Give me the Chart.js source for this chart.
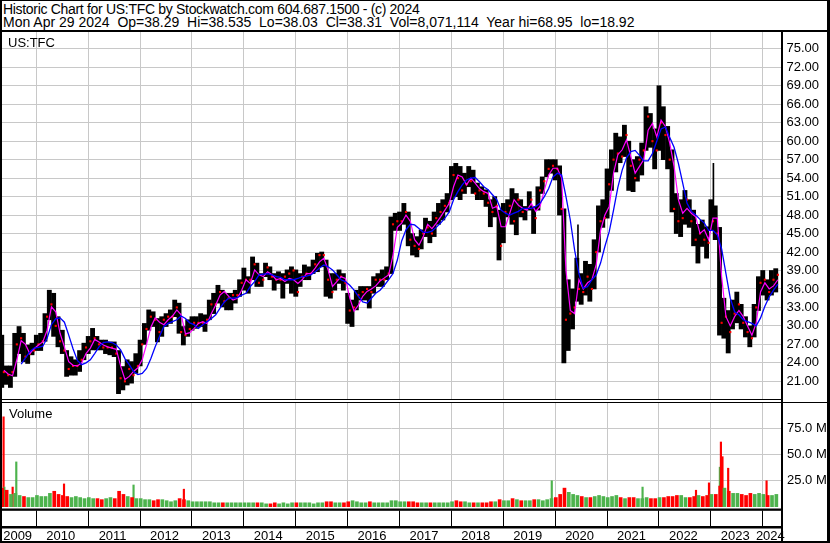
<!DOCTYPE html>
<html>
<head>
<meta charset="utf-8">
<script src="https://cdn.jsdelivr.net/npm/chart.js@4.4.1/dist/chart.umd.min.js"></script>
<style>
  html, body { margin:0; padding:0; background:#fff; }
  #wrap { position:relative; width:830px; height:543px; overflow:hidden;
          font-family:"Liberation Sans", Arial, sans-serif; color:#000; }
  .txt { position:absolute; white-space:pre; }
  .hd { font-size:14px; line-height:14px; left:3px; }
  .lb { font-size:13px; line-height:13px; }
  .ln { position:absolute; background:#000; }
  canvas { position:absolute; left:0; }
</style>
</head>
<body>
<div id="wrap">
  <canvas id="priceChart" width="830" height="367" style="top:32px"></canvas>
  <canvas id="volChart" width="830" height="140" style="top:403px"></canvas>

  <div class="txt hd" style="top:2px;letter-spacing:-0.31px">Historic Chart for US:TFC by Stockwatch.com 604.687.1500 - (c) 2024</div>
  <div class="txt hd" style="top:15px">Mon Apr 29 2024  Op=38.29  Hi=38.535  Lo=38.03  Cl=38.31  Vol=8,071,114  Year hi=68.95  lo=18.92</div>
  <div class="txt lb" style="left:8px;top:36px">US:TFC</div>
  <div class="txt lb" style="left:9px;top:407px">Volume</div>

  <!-- frame -->
  <div class="ln" style="left:0;top:0;width:830px;height:1px"></div>
  <div class="ln" style="left:0;top:30px;width:830px;height:2px"></div>
  <div class="ln" style="left:0;top:0;width:2px;height:543px"></div>
  <div class="ln" style="left:827px;top:0;width:3px;height:543px"></div>
  <div class="ln" style="left:781px;top:31px;width:2px;height:512px"></div>
  <div class="ln" style="left:0;top:399px;width:781px;height:1px"></div>
  <div class="ln" style="left:0;top:401.5px;width:830px;height:1.5px"></div>
  <div class="ln" style="left:0;top:541px;width:830px;height:2px"></div>
</div>

<script>
// Monthly bars, May 2009 .. Apr 2024 (one row per year)
const START_YEAR = 2009, START_MONTH = 4;

const priceHigh = [
  28.5, 23.5, 23.5, 28.8, 29.9, 28.8, 26.9, 27.2,
  28.5, 28.8, 32.0, 35.8, 35.3, 31.5, 29.3, 26.0, 25.0, 24.5, 26.0, 27.2,
  28.3, 29.6, 28.3, 27.7, 27.7, 27.4, 27.4, 26.0, 23.4, 24.5, 24.2, 25.5,
  27.7, 30.4, 32.6, 32.3, 31.2, 31.5, 32.0, 32.6, 34.2, 33.7, 29.9, 31.0,
  31.5, 31.5, 32.0, 31.8, 34.2, 35.3, 36.6, 35.8, 35.3, 35.3, 35.8, 37.5,
  39.4, 38.0, 41.2, 40.2, 38.5, 40.2, 39.6, 38.5, 38.8, 38.5, 39.1, 39.6,
  39.1, 38.5, 39.9, 39.6, 40.7, 41.8, 42.0, 40.7, 38.5, 38.5, 39.1, 38.5,
  35.3, 34.2, 35.8, 36.4, 36.4, 36.4, 38.0, 38.5, 39.1, 39.6, 47.7, 48.3,
  48.5, 49.9, 48.5, 45.0, 44.5, 45.6, 47.5, 47.0, 48.5, 49.9, 50.5, 51.5,
  55.9, 56.4, 55.9, 54.8, 55.9, 55.3, 53.2, 52.6, 52.1, 50.5, 51.0, 48.8,
  49.9, 50.5, 52.3, 51.5, 50.5, 49.4, 51.8, 49.4, 52.6, 54.2, 57.0, 57.0,
  57.0, 56.0, 49.0, 37.5, 36.0, 41.0, 38.5, 40.5, 40.0, 44.0, 49.5, 50.5,
  55.5, 58.6, 61.3, 60.7, 62.6, 60.0, 57.0, 57.5, 59.7, 65.6, 64.5, 62.0,
  69.0, 65.6, 62.4, 58.6, 51.5, 50.5, 52.0, 50.5, 48.8, 46.5, 47.2, 46.1,
  50.5, 49.5, 46.0, 34.5, 32.5, 34.2, 35.5, 33.5, 31.5, 30.0, 33.5, 38.0,
  39.0, 37.5, 39.0, 39.3
];
const priceLow = [
  20.0, 20.5, 20.0, 21.8, 25.5, 24.2, 23.9, 25.3,
  26.0, 26.0, 27.5, 31.0, 28.3, 26.6, 25.5, 21.8, 22.0, 22.0, 22.6, 24.5,
  25.5, 26.1, 26.1, 26.1, 25.5, 25.3, 25.0, 19.0, 19.6, 20.4, 20.7, 22.3,
  23.5, 27.0, 29.3, 29.9, 27.4, 28.3, 29.9, 30.4, 31.5, 28.8, 26.9, 28.3,
  29.3, 29.6, 29.9, 29.1, 31.0, 32.0, 33.7, 33.1, 32.6, 32.6, 33.7, 34.8,
  35.8, 35.3, 37.5, 36.4, 36.4, 38.0, 37.5, 35.8, 36.9, 34.5, 36.9, 35.3,
  34.8, 36.4, 37.5, 37.5, 38.5, 38.8, 39.6, 34.8, 34.5, 35.8, 36.9, 35.8,
  30.4, 29.9, 32.6, 34.2, 34.2, 32.9, 35.3, 36.4, 36.4, 37.5, 38.5, 45.5,
  45.5, 46.5, 43.0, 41.5, 41.2, 42.5, 44.5, 43.5, 44.5, 46.5, 47.2, 48.5,
  50.5, 51.0, 50.5, 51.5, 52.6, 51.5, 50.5, 50.5, 49.4, 46.1, 47.7, 40.7,
  43.5, 47.7, 46.5, 44.8, 47.7, 47.2, 48.8, 45.0, 48.8, 51.5, 54.2, 54.8,
  53.7, 48.0, 24.0, 26.0, 29.5, 34.0, 33.5, 35.0, 34.0, 36.0, 42.0, 46.0,
  47.5, 52.0, 55.0, 56.5, 57.5, 52.0, 51.8, 53.5, 54.5, 58.5, 59.0, 55.5,
  58.5, 57.0, 55.5, 48.5, 45.0, 44.5, 46.5, 46.0, 43.0, 40.2, 42.9, 41.0,
  45.5, 44.0, 28.5, 28.0, 25.6, 29.5, 30.5, 29.5, 28.2, 26.6, 28.2, 32.5,
  35.0, 34.2, 35.0, 35.5
];
const priceClose = [
  22.5, 22.0, 22.5, 27.0, 28.0, 25.0, 25.5, 26.0,
  27.0, 27.5, 31.5, 33.5, 30.0, 27.5, 26.0, 23.0, 23.5, 23.5, 24.5, 26.5,
  27.5, 28.0, 27.0, 26.5, 26.5, 26.5, 25.5, 21.5, 21.0, 23.0, 22.0, 23.5,
  27.0, 29.5, 31.5, 31.0, 29.0, 31.0, 31.5, 31.5, 33.0, 29.0, 28.5, 29.5,
  30.5, 30.5, 30.5, 31.0, 33.5, 33.5, 35.5, 34.0, 34.5, 35.0, 35.0, 37.0,
  37.5, 37.5, 40.0, 37.0, 37.5, 39.5, 38.0, 37.5, 37.5, 38.0, 38.5, 39.0,
  35.5, 38.0, 38.5, 38.5, 40.0, 41.5, 41.5, 37.5, 35.5, 37.5, 38.0, 37.0,
  32.5, 33.0, 35.0, 35.5, 36.0, 35.5, 37.5, 37.5, 37.5, 38.5, 46.5, 47.0,
  47.0, 48.5, 44.0, 43.0, 42.5, 45.0, 46.0, 45.0, 47.5, 48.5, 49.5, 50.0,
  54.5, 54.0, 52.0, 53.0, 53.5, 51.5, 52.0, 51.5, 50.0, 48.5, 49.5, 43.0,
  48.5, 49.5, 47.0, 50.5, 48.5, 49.0, 50.5, 47.5, 52.0, 53.5, 55.5, 56.0,
  55.5, 49.0, 31.0, 32.0, 33.0, 36.0, 35.5, 38.0, 36.0, 42.0, 47.0, 47.5,
  53.0, 57.0, 58.0, 57.5, 61.0, 56.0, 54.0, 57.0, 58.5, 64.0, 60.0, 58.5,
  63.0, 61.0, 57.0, 49.0, 47.0, 47.5, 50.5, 47.0, 44.0, 45.0, 44.0, 43.5,
  47.0, 45.0, 30.5, 31.5, 29.0, 32.0, 33.5, 30.5, 29.0, 28.0, 33.0, 37.0,
  37.5, 35.5, 37.5, 38.3
];
// magenta (short) and blue (long) moving averages
const maFast = [
  22.8, 22.2, 21.9, 24.5, 27.6, 27.0, 25.5, 26.3,
  26.9, 27.4, 29.3, 33.1, 32.3, 28.8, 26.6, 24.2, 23.6, 23.5, 24.0, 25.5,
  26.4, 27.8, 27.4, 26.9, 26.6, 26.4, 26.2, 23.5, 21.3, 21.8, 22.6, 23.2,
  24.5, 27.0, 29.8, 31.3, 30.6, 30.2, 31.0, 31.6, 32.6, 31.8, 28.7, 28.9,
  29.6, 30.4, 30.7, 30.4, 32.0, 33.4, 35.0, 35.6, 34.8, 34.2, 34.5, 35.8,
  37.5, 36.9, 39.1, 38.3, 38.0, 38.8, 38.3, 37.5, 37.7, 37.2, 37.7, 37.5,
  36.9, 37.5, 38.5, 38.5, 39.4, 40.4, 41.0, 39.1, 36.4, 37.2, 38.0, 37.7,
  34.5, 32.4, 33.4, 34.8, 35.6, 36.0, 36.5, 37.3, 37.8, 38.3, 41.5, 46.0,
  46.7, 48.0, 47.0, 44.0, 43.1, 44.5, 46.5, 45.8, 46.7, 47.7, 48.8, 49.9,
  52.6, 54.5, 54.2, 52.9, 54.0, 53.2, 52.3, 51.8, 51.5, 49.1, 49.4, 46.1,
  46.1, 48.3, 50.5, 49.6, 49.1, 48.8, 49.9, 48.6, 49.4, 52.1, 54.5, 55.6,
  55.6, 54.0, 39.0, 32.5, 32.0, 37.5, 36.0, 37.0, 37.5, 40.0, 45.5, 48.0,
  49.4, 54.8, 57.8, 58.6, 60.2, 57.5, 54.8, 55.9, 57.0, 61.8, 62.9, 60.7,
  63.4, 62.4, 59.7, 55.9, 50.5, 48.3, 49.1, 48.3, 47.7, 45.0, 45.6, 44.0,
  47.5, 47.5, 38.0, 31.5, 30.0, 31.5, 32.5, 31.5, 30.0, 28.5, 30.5, 35.5,
  37.0, 36.0, 36.5, 37.5
];
const maSlow = [
  null, null, null, null, 23.8, 24.8, 25.8, 26.4,
  26.5, 26.7, 28.0, 30.2, 31.2, 31.3, 30.6, 28.5, 26.3, 24.4, 23.7, 24.0,
  24.5, 25.5, 26.6, 27.3, 27.4, 27.3, 26.9, 26.1, 24.7, 23.7, 22.6, 22.1,
  22.3, 23.1, 24.7, 26.6, 28.3, 29.9, 30.4, 30.7, 31.0, 31.6, 31.2, 30.5,
  30.2, 29.6, 30.2, 30.7, 31.2, 31.8, 32.9, 33.9, 34.5, 34.5, 34.6, 35.0,
  35.3, 36.4, 37.2, 38.3, 38.4, 38.5, 38.3, 38.0, 37.9, 37.5, 37.5, 37.5,
  37.7, 38.0, 38.1, 38.3, 38.8, 39.4, 39.9, 39.6, 39.1, 38.3, 37.5, 37.2,
  36.6, 35.8, 34.8, 33.9, 33.7, 34.5, 35.3, 35.8, 36.6, 37.5, 38.5, 40.7,
  43.8, 45.6, 46.5, 46.4, 45.8, 45.2, 45.2, 45.4, 46.0, 46.7, 47.5, 48.5,
  50.5, 51.8, 52.9, 53.7, 54.0, 54.1, 53.4, 52.6, 52.1, 51.3, 50.5, 48.8,
  48.3, 48.0, 48.3, 48.6, 49.1, 49.1, 49.1, 49.4, 49.9, 51.0, 52.3, 54.2,
  54.8, 54.5, 51.0, 47.2, 42.3, 38.5, 36.1, 36.4, 37.5, 38.3, 40.2, 42.9,
  45.3, 48.8, 52.5, 55.3, 57.3, 58.3, 58.5, 57.7, 56.8, 56.8, 58.0, 60.0,
  62.0, 62.3, 60.6, 59.0, 56.4, 53.2, 49.9, 48.6, 48.0, 47.3, 46.7, 45.5,
  45.5, 44.8, 42.5, 38.5, 34.5, 32.3, 31.8, 31.0, 30.7, 30.4, 30.0, 31.3,
  33.2, 34.7, 35.8, 36.8
];
// weekly volume level per month, millions
const volume = [
  18, 16, 12, 13, 11, 10, 9, 9,
  11, 10, 10, 13, 15, 12, 11, 10, 9, 10, 9, 8,
  9, 8, 8, 7, 8, 9, 8, 15, 12, 10, 9, 8,
  8, 7, 7, 6, 7, 7, 6, 5, 6, 8, 7, 6,
  5, 5, 5, 5, 5, 4, 4, 4, 4, 4, 4, 4,
  4, 4, 4, 4, 4, 3, 3, 4, 3, 4, 3, 4,
  4, 4, 4, 4, 3, 4, 4, 5, 5, 4, 4, 4,
  5, 6, 5, 4, 4, 5, 4, 4, 4, 4, 6, 6,
  5, 5, 5, 5, 4, 4, 4, 4, 4, 4, 4, 4,
  5, 6, 5, 5, 4, 4, 4, 4, 4, 5, 5, 7,
  6, 6, 8, 7, 6, 6, 6, 7, 7, 6, 7, 8,
  9, 12, 18, 14, 12, 11, 10, 9, 9, 10, 11, 10,
  9, 10, 11, 9, 8, 9, 9, 8, 8, 9, 8, 8,
  9, 9, 10, 10, 11, 11, 9, 9, 10, 11, 10, 11,
  12, 12, 20, 18, 15, 13, 13, 12, 11, 13, 12, 13,
  12, 11, 11, 12
];
// single-week outliers
const priceSpikeDates = [2020.43, 2023.04];
const priceSpikeLow = [40.7, 48.5];
const priceSpikeHigh = [46.4, 56.4];
const volSpikeDates = [2009.355, 2009.37, 2009.53, 2009.60, 2010.52, 2011.86, 2012.83, 2019.92,
                       2021.67, 2022.70, 2022.95, 2023.16, 2023.18, 2023.21, 2023.32, 2024.06];
const volSpikeValues = [86, 19, 19, 43, 22, 21, 17, 25, 19, 16, 23, 38, 62, 48, 37, 25];
const volSpikeUp = [false, true, false, true, false, true, false, true,
                    true, false, false, true, false, false, false, false];

const yearTicks = [2010, 2011, 2012, 2013, 2014, 2015, 2016, 2017, 2018, 2019, 2020, 2021, 2022, 2023, 2024];
const yearLabels = ['2009', '2010', '2011', '2012', '2013', '2014', '2015', '2016', '2017', '2018', '2019', '2020', '2021', '2022', '2023', '2024'];
const priceTicks = [21, 24, 27, 30, 33, 36, 39, 42, 45, 48, 51, 54, 57, 60, 63, 66, 69, 72, 75];
const volTicks = [25, 50, 75];

// ======= config =======
const X_MIN = 2009.3392, X_MAX = 2024.3525;
const P_MIN = 18.13, P_MAX = 77.73;
const V_MAX = 99.2;
const GRID = '#c8c8c8';
const RED = '#ff0000', GREEN = '#4db34d';
const FONT = { family: '"Liberation Sans", Arial, sans-serif', size: 13 };

const monthX = priceHigh.map((_, i) => {
  const m = START_MONTH + i;
  return START_YEAR + Math.floor(m / 12) + ((m % 12) + 0.5) / 12;
});
const pts = arr => arr.map((v, i) => ({ x: monthX[i], y: v })).filter(p => p.y != null);

function noPad(s){ s.paddingTop = 0; s.paddingBottom = 0; s.paddingLeft = 0; s.paddingRight = 0; }
function xAxis(h){
  return {
    type: 'linear', min: X_MIN, max: X_MAX, offset: false,
    grid: { color: GRID, drawTicks: false, offset: false }, border: { display: false },
    ticks: { display: false },
    afterBuildTicks: s => { s.ticks = yearTicks.map(v => ({ value: v })); },
    afterFit: s => { s.height = h; noPad(s); }
  };
}
function yAxis(min, max, ticks, fmt, pad){
  return {
    type: 'linear', position: 'right', min, max,
    grid: { color: GRID, drawTicks: false }, border: { display: false },
    ticks: { padding: pad, color: '#000', font: FONT, callback: fmt, autoSkip: false },
    afterBuildTicks: s => { s.ticks = ticks.map(v => ({ value: v })); },
    afterFit: s => { s.width = 49; noPad(s); }
  };
}
const hidden = { type: 'linear', min: X_MIN, max: X_MAX, offset: false, display: false };

new Chart(document.getElementById('priceChart'), {
  type: 'bar',
  data: { datasets: [
    { type: 'line', data: pts(maSlow), borderColor: '#0000ff', borderWidth: 1.3, pointRadius: 0, order: 1 },
    { type: 'line', data: pts(maFast), borderColor: '#ff00ff', borderWidth: 1.2, pointRadius: 0, order: 2 },
    { type: 'line', data: pts(priceClose), showLine: false, pointStyle: 'rect', pointRadius: 1.5,
      pointHoverRadius: 0, backgroundColor: RED, borderWidth: 0, order: 3 },
    { type: 'bar', data: priceHigh.map((h, i) => ({ x: monthX[i], y: [priceLow[i], h] })),
      backgroundColor: '#000', barThickness: 4.2, order: 4 },
    { type: 'bar', xAxisID: 'x2', data: priceSpikeDates.map((d, i) => ({ x: d, y: [priceSpikeLow[i], priceSpikeHigh[i]] })),
      backgroundColor: '#000', barThickness: 1, order: 4 }
  ]},
  options: {
    responsive: false, animation: false,
    layout: { autoPadding: false, padding: { left: 2, right: 0, top: 0, bottom: 0 } },
    plugins: { legend: { display: false }, tooltip: { enabled: false } },
    scales: {
      x: xAxis(0), x2: hidden,
      y: yAxis(P_MIN, P_MAX, priceTicks, v => v.toFixed(2), 5.5)
    }
  }
});

const yearStrip = {
  id: 'yearStrip',
  afterDraw(chart){
    const { ctx, chartArea: a, scales: { x } } = chart;
    ctx.save();
    ctx.fillStyle = '#000';
    ctx.fillRect(0, 105.5, a.right, 2.3);
    ctx.fillRect(0, 123, a.right, 2.5);
    for (const y of yearTicks){
      const px = Math.round(x.getPixelForValue(y) - 0.5) + 0.5;
      ctx.fillRect(px - 0.5, 107.5, 1, 16);
    }
    ctx.font = '13px "Liberation Sans", Arial, sans-serif';
    ctx.textAlign = 'center';
    ctx.textBaseline = 'alphabetic';
    yearLabels.forEach((lab, i) => {
      const y0 = 2009 + i;
      const l = Math.max(a.left, x.getPixelForValue(y0));
      const r = Math.min(a.right, x.getPixelForValue(y0 + 1));
      ctx.fillText(lab, (l + r) / 2 - 1.5, 137);
    });
    ctx.restore();
  }
};

new Chart(document.getElementById('volChart'), {
  type: 'bar',
  data: { datasets: [
    { data: volume.map((v, i) => ({ x: monthX[i], y: v })),
      backgroundColor: priceClose.map((c, i) => (i > 0 && c >= priceClose[i - 1]) ? GREEN : RED),
      barThickness: 3 },
    { xAxisID: 'x2', data: volSpikeValues.map((v, i) => ({ x: volSpikeDates[i], y: v })),
      backgroundColor: volSpikeUp.map(u => u ? GREEN : RED), barThickness: 1.5 }
  ]},
  options: {
    responsive: false, animation: false,
    layout: { autoPadding: false, padding: { left: 2, right: 0, top: 0, bottom: 0 } },
    plugins: { legend: { display: false }, tooltip: { enabled: false } },
    scales: {
      x: xAxis(36), x2: hidden,
      y: yAxis(0, V_MAX, volTicks, v => v.toFixed(1) + ' M', 6)
    }
  },
  plugins: [yearStrip]
});
</script>
</body>
</html>
